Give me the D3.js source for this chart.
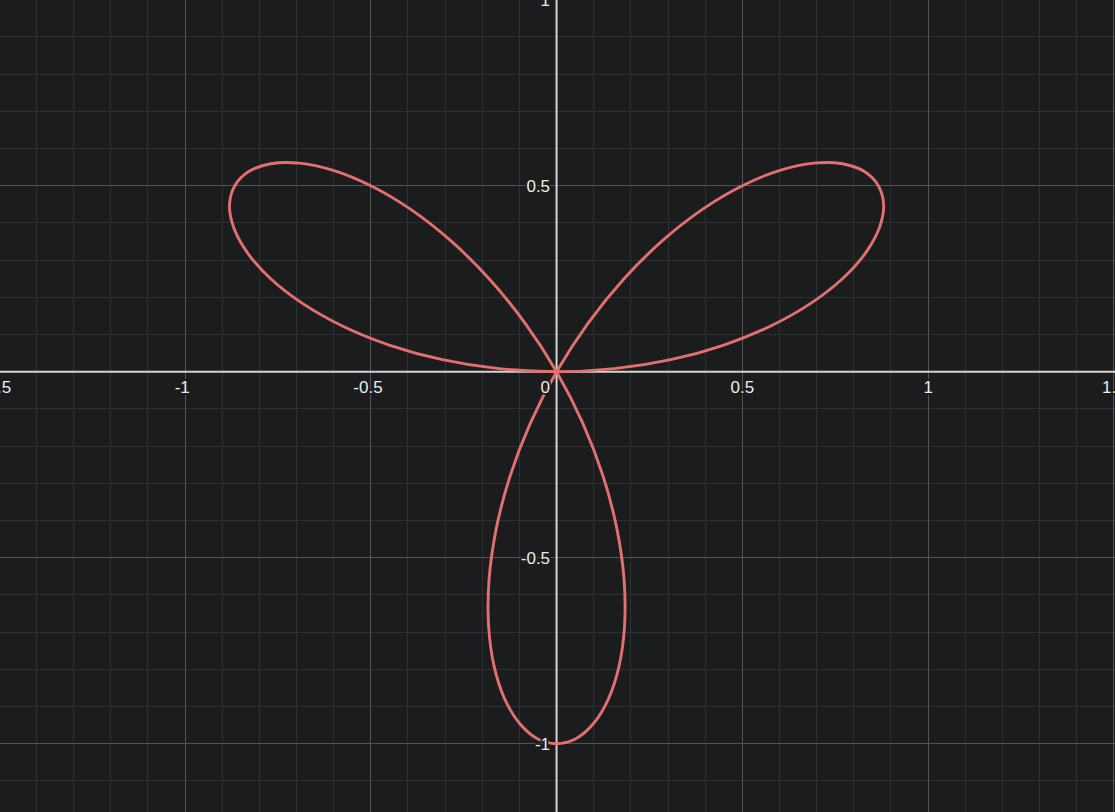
<!DOCTYPE html>
<html>
<head>
<meta charset="utf-8">
<script src="https://cdn.jsdelivr.net/npm/d3@7"></script>
<style>
  html, body { margin: 0; padding: 0; background: #1b1c1e; overflow: hidden; }
  svg { display: block; }
</style>
</head>
<body>
<svg id="chart" width="1115" height="812"></svg>
<script>
// Polar samples of the three-petal rose (angle in degrees, signed radius)
const angleDeg = [0,3,6,9,12,15,18,21,24,27,30,33,36,39,42,45,48,51,54,57,60,
  63,66,69,72,75,78,81,84,87,90,93,96,99,102,105,108,111,114,117,120,
  123,126,129,132,135,138,141,144,147,150,153,156,159,162,165,168,171,174,177,180];
const radius = [0,0.156,0.309,0.454,0.588,0.707,0.809,0.891,0.951,0.988,1,
  0.988,0.951,0.891,0.809,0.707,0.588,0.454,0.309,0.156,0,
  -0.156,-0.309,-0.454,-0.588,-0.707,-0.809,-0.891,-0.951,-0.988,-1,
  -0.988,-0.951,-0.891,-0.809,-0.707,-0.588,-0.454,-0.309,-0.156,0,
  0.156,0.309,0.454,0.588,0.707,0.809,0.891,0.951,0.988,1,
  0.988,0.951,0.891,0.809,0.707,0.588,0.454,0.309,0.156,0];

const xTickValues = [-1.5,-1,-0.5,0.5,1,1.5];
const xTickLabels = ["-1.5","-1","-0.5","0.5","1","1.5"];
const yTickValues = [1,0.5,-0.5,-1];
const yTickLabels = ["1","0.5","-0.5","-1"];
const originLabel = "0";

const W = 1115, H = 812;
const svg = d3.select("#chart");

const x = d3.scaleLinear().domain([-1.498, 1.503]).range([0, W]);
const y = d3.scaleLinear().domain([-1.1836, 0.9992]).range([H, 0]);

svg.append("rect").attr("width", W).attr("height", H).attr("fill", "#1b1c1e");

// minor grid
const minorX = d3.range(-15, 16).map(d => d / 10);
const minorY = d3.range(-12, 11).map(d => d / 10);
const grid = svg.append("g");
grid.selectAll(".mx").data(minorX).join("line")
  .attr("x1", d => x(d)).attr("x2", d => x(d)).attr("y1", 0).attr("y2", H)
  .attr("stroke", "#2f3033").attr("stroke-width", 1).attr("shape-rendering", "crispEdges");
grid.selectAll(".my").data(minorY).join("line")
  .attr("y1", d => y(d)).attr("y2", d => y(d)).attr("x1", 0).attr("x2", W)
  .attr("stroke", "#2f3033").attr("stroke-width", 1).attr("shape-rendering", "crispEdges");
// major grid
grid.selectAll(".Mx").data(xTickValues).join("line")
  .attr("x1", d => x(d)).attr("x2", d => x(d)).attr("y1", 0).attr("y2", H)
  .attr("stroke", "#535456").attr("stroke-width", 1).attr("shape-rendering", "crispEdges");
grid.selectAll(".My").data(yTickValues).join("line")
  .attr("y1", d => y(d)).attr("y2", d => y(d)).attr("x1", 0).attr("x2", W)
  .attr("stroke", "#535456").attr("stroke-width", 1).attr("shape-rendering", "crispEdges");

// axes
svg.append("line").attr("x1", 0).attr("x2", W).attr("y1", y(0)).attr("y2", y(0))
  .attr("stroke", "#d4d4d4").attr("stroke-width", 2);
svg.append("line").attr("x1", x(0)).attr("x2", x(0)).attr("y1", 0).attr("y2", H)
  .attr("stroke", "#d4d4d4").attr("stroke-width", 2);

// curve
const pts = angleDeg.map((a, i) => {
  const t = a * Math.PI / 180;
  return [radius[i] * Math.cos(t), radius[i] * Math.sin(t)];
});
const line = d3.line().x(d => x(d[0])).y(d => y(d[1])).curve(d3.curveCatmullRomClosed.alpha(0.5));
svg.append("path").datum(pts.slice(0, pts.length - 1))
  .attr("d", line).attr("fill", "none")
  .attr("stroke", "#e2706e").attr("stroke-width", 2.9).attr("stroke-linejoin", "round");

// labels
const fontFam = "Arial, 'Liberation Sans', sans-serif";
function label(g, txt, px, py, anchor) {
  g.append("text").attr("x", px).attr("y", py).attr("text-anchor", anchor)
    .attr("font-family", fontFam).attr("font-size", 17)
    .attr("fill", "none").attr("stroke", "#1b1c1e").attr("stroke-width", 3.5)
    .attr("stroke-linejoin", "round").text(txt);
  g.append("text").attr("x", px).attr("y", py).attr("text-anchor", anchor)
    .attr("font-family", fontFam).attr("font-size", 17)
    .attr("fill", "#ececec").text(txt);
}
const lg = svg.append("g");
xTickValues.forEach((v, i) => {
  const t = xTickLabels[i];
  const shift = t.startsWith("-") ? -2.8 : 0;
  label(lg, t, x(v) + shift, y(0) + 21, "middle");
});
yTickValues.forEach((v, i) => {
  label(lg, yTickLabels[i], x(0) - 6.5, y(v) + 6, "end");
});
label(lg, originLabel, x(0) - 6.5, y(0) + 21, "end");
</script>
</body>
</html>
